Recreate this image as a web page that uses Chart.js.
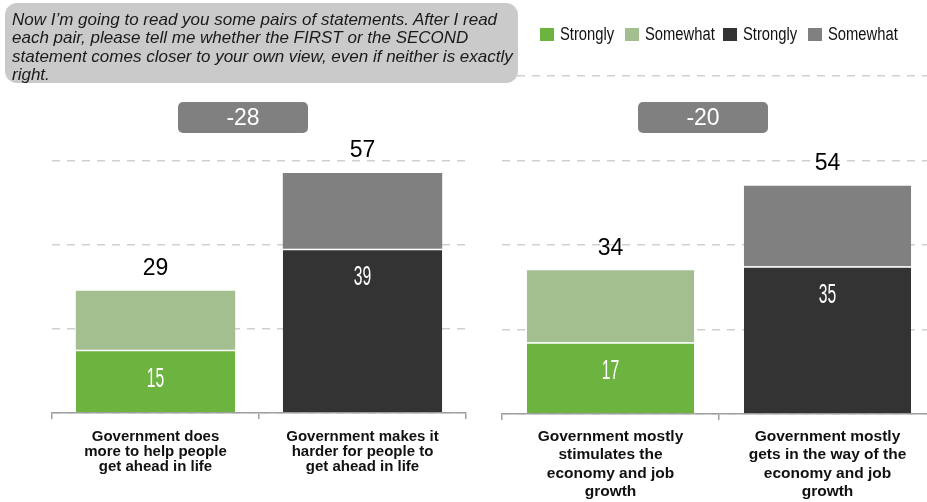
<!DOCTYPE html>
<html>
<head>
<meta charset="utf-8">
<script src="https://cdn.jsdelivr.net/npm/chart.js@4.4.0/dist/chart.umd.min.js"></script>
<style>
  html, body { margin: 0; padding: 0; overflow: hidden; }
  body { width: 927px; height: 502px; position: relative; background: #fff; }
  canvas { position: absolute; top: 0; }
  #prompt {
    position: absolute; left: 5px; top: 3px; width: 506px; height: 72px;
    padding: 8px 0 0 7px; background: #cacaca; border-radius: 12px;
    font: italic 17px 'Liberation Sans', Arial, sans-serif; line-height: 18.3px; color: #1a1a1a;
    white-space: nowrap; z-index: 2;
  }
  #legend .item {
    position: absolute; top: 25px; height: 18px; display: flex; align-items: center;
    font: 18px 'Liberation Sans', Arial, sans-serif; color: #111; white-space: nowrap;
  }
  #legend .box { width: 14px; height: 13px; margin-right: 6px; flex: none; }
  #legend .txt { display: inline-block; transform: scaleX(0.82); transform-origin: left center; }
</style>
</head>
<body>
<canvas id="leftChart" width="480" height="502" style="left:0"></canvas>
<canvas id="rightChart" width="460" height="502" style="left:480px"></canvas>
<div id="prompt">Now I’m going to read you some pairs of statements. After I read<br>each pair, please tell me whether the FIRST or the SECOND<br>statement comes closer to your own view, even if neither is exactly<br>right.</div>
<div id="legend"></div>
<script>
// Series (legend order)
const seriesNames = ['Strongly', 'Somewhat', 'Strongly', 'Somewhat'];
const seriesColors = ['#6db33f', '#a3bf8f', '#333333', '#808080'];

// Left pair
const leftCategories = [
  ['Government does', 'more to help people', 'get ahead in life'],
  ['Government makes it', 'harder for people to', 'get ahead in life']
];
const leftFirstStrongly = [15, null];
const leftFirstSomewhat = [14, null];
const leftSecondStrongly = [null, 39];
const leftSecondSomewhat = [null, 18];

// Right pair
const rightCategories = [
  ['Government mostly', 'stimulates the', 'economy and job', 'growth'],
  ['Government mostly', 'gets in the way of the', 'economy and job', 'growth']
];
const rightFirstStrongly = [17, null];
const rightFirstSomewhat = [17, null];
const rightSecondStrongly = [null, 35];
const rightSecondSomewhat = [null, 19];

const yMax = 80;
const yStep = 20;

// legend (narrow text, placed like the original)
const legendLefts = [540, 625, 723, 808];
const legendEl = document.getElementById('legend');
seriesNames.forEach((name, i) => {
  const item = document.createElement('div');
  item.className = 'item';
  item.style.left = legendLefts[i] + 'px';
  item.innerHTML = '<span class="box" style="background:' + seriesColors[i] + '"></span><span class="txt">' + name + '</span>';
  legendEl.appendChild(item);
});

// value labels, totals and the difference box
const labelPlugin = {
  id: 'pairLabels',
  afterDatasetsDraw(chart) {
    const ctx = chart.ctx;
    const n = chart.data.labels.length;
    const totals = [];
    for (let i = 0; i < n; i++) {
      const bars = [];
      chart.data.datasets.forEach((ds, d) => {
        if (ds.data[i] != null) bars.push({ value: ds.data[i], el: chart.getDatasetMeta(d).data[i] });
      });
      const total = bars.reduce((s, b) => s + b.value, 0);
      totals.push(total);
      const low = bars[0].el;
      const top = bars[bars.length - 1].el;

      // strongly value inside the lower segment (narrow, tall digits)
      ctx.save();
      ctx.translate(low.x, low.y + 29);
      ctx.scale(0.56, 1);
      ctx.font = "28px 'Liberation Sans', Arial, sans-serif";
      ctx.fillStyle = '#ffffff';
      ctx.textAlign = 'center';
      ctx.textBaseline = 'middle';
      ctx.fillText(String(bars[0].value), 0, 0);
      ctx.restore();

      // total above the bar
      ctx.save();
      ctx.font = "23px 'Liberation Sans', Arial, sans-serif";
      ctx.fillStyle = '#000';
      ctx.textAlign = 'center';
      ctx.textBaseline = 'middle';
      ctx.fillText(String(total), top.x, top.y - 22);
      ctx.restore();
    }

    // difference box
    const ca = chart.chartArea;
    const cx = (ca.left + ca.right) / 2 - 16;
    const w = 130, h = 31, y0 = 102;
    ctx.save();
    ctx.fillStyle = '#808080';
    ctx.beginPath();
    ctx.roundRect(cx - w / 2, y0, w, h, 5);
    ctx.fill();
    ctx.font = "23px 'Liberation Sans', Arial, sans-serif";
    ctx.fillStyle = '#ffffff';
    ctx.textAlign = 'center';
    ctx.textBaseline = 'middle';
    ctx.fillText(String(totals[0] - totals[1]), cx, y0 + h / 2 + 1);
    ctx.restore();
  }
};

function makePanel(canvasId, categories, series, padLeft, padRight, axisHeight, labelSize, labelLine, labelPad) {
  const datasets = series.map((data, i) => ({
    label: seriesNames[i],
    data: data,
    backgroundColor: seriesColors[i],
    borderColor: '#ffffff',
    borderWidth: (i % 2 === 0) ? { top: 1.5 } : 0,
    borderSkipped: false,
    barPercentage: 0.77,
    categoryPercentage: 1
  }));

  return new Chart(document.getElementById(canvasId), {
    type: 'bar',
    data: { labels: categories, datasets: datasets },
    options: {
      responsive: false,
      animation: false,
      layout: { padding: { left: padLeft, right: padRight, top: 76, bottom: 0 } },
      plugins: { legend: { display: false }, tooltip: { enabled: false } },
      scales: {
        x: {
          stacked: true,
          border: { display: true, color: '#a0a0a0', width: 1.5 },
          grid: { display: true, drawOnChartArea: false, drawTicks: true, tickLength: 6, color: '#a0a0a0', lineWidth: 1.5 },
          ticks: {
            color: '#111',
            padding: labelPad,
            maxRotation: 0,
            autoSkip: false,
            font: { family: "'Liberation Sans', Arial, sans-serif", size: labelSize, weight: 'bold', lineHeight: labelLine }
          },
          afterFit(scale) { scale.height = axisHeight; }
        },
        y: {
          stacked: true,
          min: 0,
          max: yMax,
          border: { display: false, dash: [8, 7] },
          grid: { color: '#d0d0d0', lineWidth: 1.5, drawTicks: false },
          ticks: { display: false, stepSize: yStep },
          afterFit(scale) { scale.width = 0; }
        }
      }
    },
    plugins: [labelPlugin]
  });
}

makePanel('leftChart', leftCategories,
  [leftFirstStrongly, leftFirstSomewhat, leftSecondStrongly, leftSecondSomewhat], 52, 14, 89, 15, 1.0, 10);
makePanel('rightChart', rightCategories,
  [rightFirstStrongly, rightFirstSomewhat, rightSecondStrongly, rightSecondSomewhat], 22, 4, 88, 15.5, 1.17, 8);
</script>
</body>
</html>
